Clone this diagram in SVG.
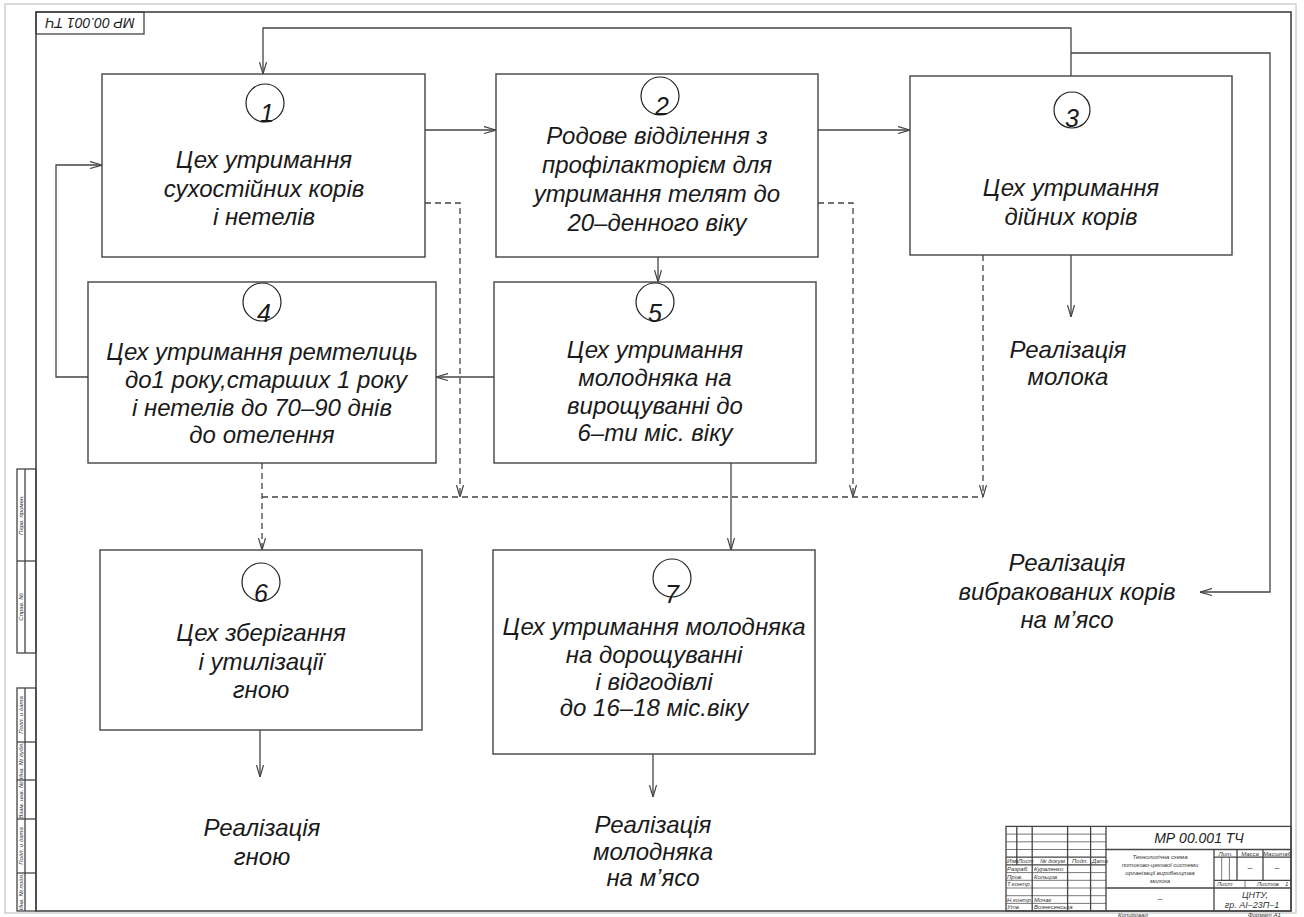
<svg xmlns="http://www.w3.org/2000/svg" width="1304" height="917" viewBox="0 0 1304 917">
<style>
.bg{fill:#ffffff}
.page{fill:none;stroke:#d0d0d0;stroke-width:1.5}
.frame{fill:none;stroke:#444;stroke-width:1.6}
.box{fill:#ffffff;stroke:#444;stroke-width:1.4}
.circ{fill:none;stroke:#222;stroke-width:1.2}
.ln{fill:none;stroke:#444;stroke-width:1.3}
.dash{fill:none;stroke:#444;stroke-width:1.3;stroke-dasharray:6 4}
.t{font-family:"Liberation Sans",Arial,sans-serif;font-style:italic;font-size:24px;fill:#1a1a1a;text-anchor:middle}
.num{font-family:"Liberation Sans",Arial,sans-serif;font-style:italic;font-size:25px;fill:#1a1a1a;text-anchor:middle}
.tb{fill:none;stroke:#555;stroke-width:0.8}
.tbk{fill:none;stroke:#444;stroke-width:1.3}
.s{font-family:"Liberation Sans",Arial,sans-serif;font-style:italic;font-size:6px;fill:#333}
.sc{font-family:"Liberation Sans",Arial,sans-serif;font-style:italic;font-size:6px;fill:#333;text-anchor:middle}
.m{font-family:"Liberation Sans",Arial,sans-serif;font-style:italic;font-size:9px;fill:#333;text-anchor:middle}
.big{font-family:"Liberation Sans",Arial,sans-serif;font-style:italic;font-size:14px;fill:#222;text-anchor:middle}
</style>
<defs>
<marker id="arr" markerUnits="userSpaceOnUse" markerWidth="12" markerHeight="8" viewBox="0 0 12 8" refX="12" refY="4" orient="auto">
<path d="M0,0.5 L12,4 L0,7.5" fill="none" stroke="#444" stroke-width="1.2" stroke-dasharray="none"/>
</marker>
</defs>
<rect class="bg" x="0" y="0" width="1304" height="917"/>
<rect class="page" x="5" y="4" width="1291" height="909"/>
<rect class="frame" x="36" y="12" width="1255" height="899"/>

<g id="stamp">
<rect class="tbk" x="36" y="12" width="108" height="22"/>
<text class="big" transform="translate(90,23) rotate(180)" dy="5" font-size="13">МР 00.001 ТЧ</text>
</g>

<g id="side-strip">
<rect class="tbk" x="17" y="469" width="19" height="184"/>
<line class="tbk" x1="25" y1="469" x2="25" y2="653"/>
<line class="tbk" x1="17" y1="561" x2="36" y2="561"/>
<rect class="tbk" x="17" y="688" width="19" height="223"/>
<line class="tbk" x1="25" y1="688" x2="25" y2="911"/>
<line class="tbk" x1="17" y1="742" x2="36" y2="742"/>
<line class="tbk" x1="17" y1="780" x2="36" y2="780"/>
<line class="tbk" x1="17" y1="819" x2="36" y2="819"/>
<line class="tbk" x1="17" y1="873" x2="36" y2="873"/>
<text class="sc" transform="translate(23,515) rotate(-90)">Перв. примен.</text>
<text class="sc" transform="translate(23,607) rotate(-90)">Справ. №</text>
<text class="sc" transform="translate(23,715) rotate(-90)">Подп. и дата</text>
<text class="sc" transform="translate(23,761) rotate(-90)">Инв. № дубл.</text>
<text class="sc" transform="translate(23,800) rotate(-90)">Взам. инв. №</text>
<text class="sc" transform="translate(23,846) rotate(-90)">Подп. и дата</text>
<text class="sc" transform="translate(23,892) rotate(-90)">Инв. № подл.</text>
</g>

<g id="connectors">
<path class="ln" d="M1071,76 V28 H263 V74" marker-end="url(#arr)"/>
<path class="ln" d="M1071,53 H1270 V592 H1200" marker-end="url(#arr)"/>
<path class="ln" d="M425,130 H496" marker-end="url(#arr)"/>
<path class="ln" d="M818,130 H910" marker-end="url(#arr)"/>
<path class="ln" d="M658,257 V282" marker-end="url(#arr)"/>
<path class="ln" d="M494,377 H436" marker-end="url(#arr)"/>
<path class="ln" d="M88,377 H56 V165 H102" marker-end="url(#arr)"/>
<path class="ln" d="M1071,255 V317" marker-end="url(#arr)"/>
<path class="dash" d="M425,203 H460 V497" marker-end="url(#arr)"/>
<path class="dash" d="M818,203 H853 V497" marker-end="url(#arr)"/>
<path class="dash" d="M983,255 V497" marker-end="url(#arr)"/>
<path class="dash" d="M262,497 H983"/>
<path class="dash" d="M262,463 V550" marker-end="url(#arr)"/>
<path class="ln" d="M731,463 V550" marker-end="url(#arr)"/>
<path class="ln" d="M260,730 V777" marker-end="url(#arr)"/>
<path class="ln" d="M653,754 V797" marker-end="url(#arr)"/>
</g>

<g id="node1">
<rect class="box" x="102" y="74" width="323" height="183"/>
<circle class="circ" cx="265" cy="103" r="19"/>
<text class="num" x="267" y="122">1</text>
<text class="t" x="264" y="168">Цех утримання</text>
<text class="t" x="264" y="197">сухостійних корів</text>
<text class="t" x="264" y="225">і нетелів</text>
</g>

<g id="node2">
<rect class="box" x="496" y="74" width="322" height="183"/>
<circle class="circ" cx="660" cy="96" r="19"/>
<text class="num" x="662" y="115">2</text>
<text class="t" x="657" y="144">Родове відділення з</text>
<text class="t" x="657" y="173">профілакторієм для</text>
<text class="t" x="657" y="202">утримання телят до</text>
<text class="t" x="657" y="231">20–денного віку</text>
</g>

<g id="node3">
<rect class="box" x="910" y="76" width="322" height="179"/>
<circle class="circ" cx="1072" cy="110" r="18"/>
<text class="num" x="1072" y="127">3</text>
<text class="t" x="1071" y="196">Цех утримання</text>
<text class="t" x="1071" y="225">дійних корів</text>
</g>

<g id="node4">
<rect class="box" x="88" y="282" width="348" height="181"/>
<circle class="circ" cx="262" cy="302" r="19"/>
<text class="num" x="264" y="322">4</text>
<text class="t" x="262" y="360">Цех утримання ремтелиць</text>
<text class="t" x="266" y="388">до1 року,старших 1 року</text>
<text class="t" x="262" y="416">і нетелів до 70–90 днів</text>
<text class="t" x="262" y="443">до отелення</text>
</g>

<g id="node5">
<rect class="box" x="494" y="282" width="322" height="181"/>
<circle class="circ" cx="655" cy="302" r="19"/>
<text class="num" x="655" y="322">5</text>
<text class="t" x="655" y="358">Цех утримання</text>
<text class="t" x="655" y="386">молодняка на</text>
<text class="t" x="655" y="414">вирощуванні до</text>
<text class="t" x="655" y="441">6–ти міс. віку</text>
</g>

<g id="node6">
<rect class="box" x="100" y="550" width="322" height="180"/>
<circle class="circ" cx="261" cy="582" r="19"/>
<text class="num" x="261" y="602">6</text>
<text class="t" x="261" y="641">Цех зберігання</text>
<text class="t" x="261" y="670">і утилізації</text>
<text class="t" x="261" y="698">гною</text>
</g>

<g id="node7">
<rect class="box" x="493" y="550" width="322" height="204"/>
<circle class="circ" cx="672" cy="578" r="19"/>
<text class="num" x="672" y="603">7</text>
<text class="t" x="654" y="635">Цех утримання молодняка</text>
<text class="t" x="654" y="663">на дорощуванні</text>
<text class="t" x="654" y="690">і відгодівлі</text>
<text class="t" x="654" y="716">до 16–18 міс.віку</text>
</g>

<g id="out-milk">
<text class="t" x="1068" y="358">Реалізація</text>
<text class="t" x="1068" y="385">молока</text>
</g>
<g id="out-cows">
<text class="t" x="1067" y="571">Реалізація</text>
<text class="t" x="1067" y="600">вибракованих корів</text>
<text class="t" x="1067" y="628">на м’ясо</text>
</g>
<g id="out-manure">
<text class="t" x="262" y="836">Реалізація</text>
<text class="t" x="262" y="865">гною</text>
</g>
<g id="out-young">
<text class="t" x="653" y="833">Реалізація</text>
<text class="t" x="653" y="860">молодняка</text>
<text class="t" x="653" y="886">на м’ясо</text>
</g>

<g id="title-block">
<rect class="tbk" x="1006" y="826.4" width="285" height="84.6"/>
<line class="tb" x1="1006" y1="834.1" x2="1106" y2="834.1"/>
<line class="tb" x1="1006" y1="841.8" x2="1106" y2="841.8"/>
<line class="tb" x1="1006" y1="849.5" x2="1106" y2="849.5"/>
<line class="tbk" x1="1006" y1="857.2" x2="1106" y2="857.2"/>
<line class="tbk" x1="1006" y1="864.9" x2="1106" y2="864.9"/>
<line class="tb" x1="1006" y1="872.6" x2="1106" y2="872.6"/>
<line class="tb" x1="1006" y1="880.3" x2="1106" y2="880.3"/>
<line class="tb" x1="1006" y1="888" x2="1106" y2="888"/>
<line class="tb" x1="1006" y1="895.7" x2="1106" y2="895.7"/>
<line class="tb" x1="1006" y1="903.4" x2="1106" y2="903.4"/>
<line class="tbk" x1="1016.8" y1="826.4" x2="1016.8" y2="864.9"/>
<line class="tbk" x1="1032.2" y1="826.4" x2="1032.2" y2="911"/>
<line class="tbk" x1="1067.6" y1="826.4" x2="1067.6" y2="911"/>
<line class="tbk" x1="1090.6" y1="826.4" x2="1090.6" y2="911"/>
<line class="tbk" x1="1106" y1="826.4" x2="1106" y2="911"/>
<line class="tbk" x1="1106" y1="849.5" x2="1291" y2="849.5"/>
<line class="tbk" x1="1106" y1="888" x2="1291" y2="888"/>
<line class="tbk" x1="1214" y1="849.5" x2="1214" y2="911"/>
<line class="tbk" x1="1214" y1="857.2" x2="1291" y2="857.2"/>
<line class="tbk" x1="1214" y1="880.3" x2="1291" y2="880.3"/>
<line class="tbk" x1="1237" y1="849.5" x2="1237" y2="880.3"/>
<line class="tbk" x1="1263" y1="849.5" x2="1263" y2="880.3"/>
<line class="tb" x1="1221.7" y1="857.2" x2="1221.7" y2="880.3"/>
<line class="tb" x1="1229.4" y1="857.2" x2="1229.4" y2="880.3"/>
<line class="tb" x1="1245" y1="880.3" x2="1245" y2="888"/>
<text class="s" x="1007" y="863">Изм.</text>
<text class="s" x="1018" y="863">Лист</text>
<text class="s" x="1040" y="863">№ докум.</text>
<text class="s" x="1072" y="863">Подп.</text>
<text class="s" x="1092" y="863">Дата</text>
<text class="s" x="1007" y="871">Разраб.</text>
<text class="s" x="1034" y="871">Кураленко</text>
<text class="s" x="1007" y="878.5">Пров.</text>
<text class="s" x="1034" y="878.5">Кольцов</text>
<text class="s" x="1007" y="886.2">Т.контр.</text>
<text class="s" x="1007" y="901.6">Н.контр.</text>
<text class="s" x="1034" y="901.6">Мочак</text>
<text class="s" x="1007" y="909.3">Утв.</text>
<text class="s" x="1034" y="909.3">Вознесенська</text>
<text class="big" x="1199" y="843">МР 00.001 ТЧ</text>
<text class="sc" x="1160" y="859">Технологічна схема</text>
<text class="sc" x="1160" y="867">потоково-цехової системи</text>
<text class="sc" x="1160" y="875">організації виробництва</text>
<text class="sc" x="1160" y="883">молока</text>
<text class="m" x="1160" y="902">–</text>
<text class="sc" x="1225.5" y="855.5">Лит.</text>
<text class="sc" x="1250" y="855.5">Масса</text>
<text class="sc" x="1277" y="855.5">Масштаб</text>
<text class="m" x="1250" y="871">–</text>
<text class="m" x="1277" y="871">–</text>
<text class="s" x="1217" y="886.3">Лист</text>
<text class="s" x="1257" y="886.3">Листов</text>
<text class="s" x="1285" y="886.3">1</text>
<text class="m" x="1255" y="897.5">ЦНТУ,</text>
<text class="m" x="1252" y="908">гр. АІ–23П–1</text>
<text class="s" x="1118" y="916.5">Копировал</text>
<text class="s" x="1248" y="916.5">Формат   А1</text>
</g>
</svg>
